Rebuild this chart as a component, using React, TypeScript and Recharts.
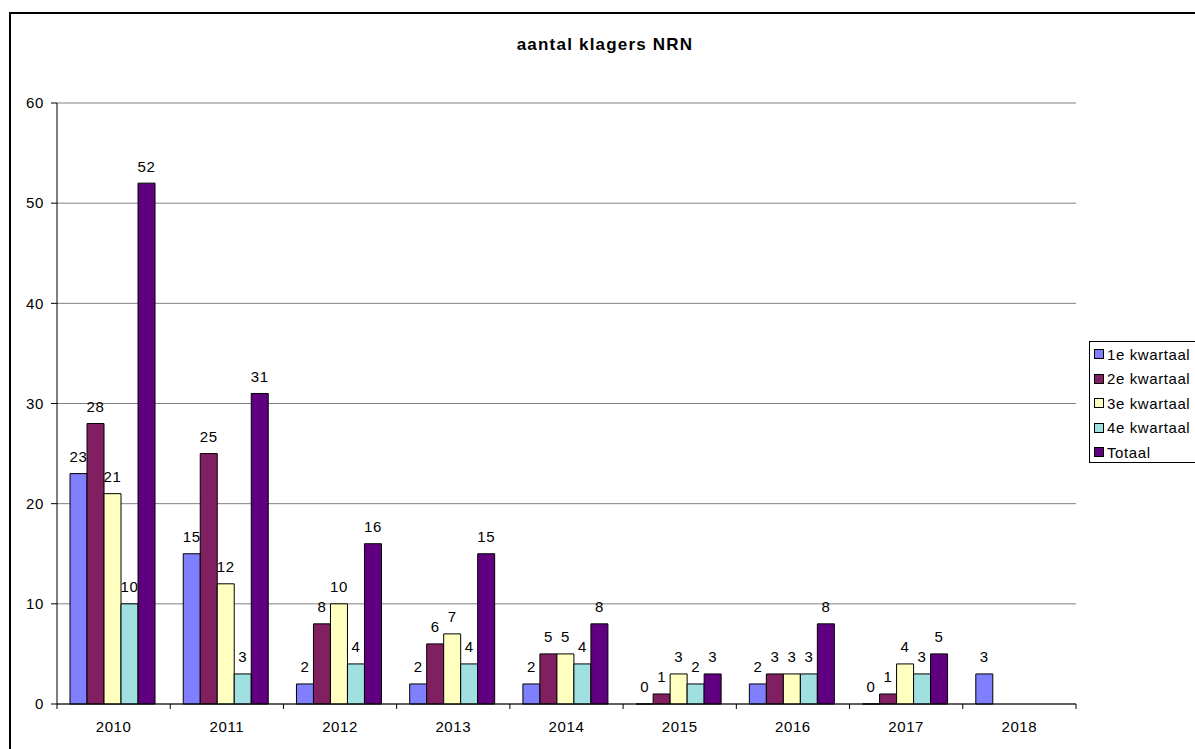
import { BarChart, Bar, XAxis, YAxis, CartesianGrid, LabelList } from "recharts"

// aantal klagers per kwartaal, per jaar
const years = ["2010", "2011", "2012", "2013", "2014", "2015", "2016", "2017", "2018"]
const kwartaal1 = [23, 15, 2, 2, 2, 0, 2, 0, 3]
const kwartaal2 = [28, 25, 8, 6, 5, 1, 3, 1, null]
const kwartaal3 = [21, 12, 10, 7, 5, 3, 3, 4, null]
const kwartaal4 = [10, 3, 4, 4, 4, 2, 3, 3, null]
const totaal = [52, 31, 16, 15, 8, 3, 8, 5, null]
const yTicks = [0, 10, 20, 30, 40, 50, 60]

const series = [
  { key: "k1", name: "1e kwartaal", color: "#8080ff" },
  { key: "k2", name: "2e kwartaal", color: "#802060" },
  { key: "k3", name: "3e kwartaal", color: "#ffffc0" },
  { key: "k4", name: "4e kwartaal", color: "#a0e0e0" },
  { key: "tot", name: "Totaal", color: "#600080" },
]

const data = years.map((year, i) => ({
  year,
  k1: kwartaal1[i],
  k2: kwartaal2[i],
  k3: kwartaal3[i],
  k4: kwartaal4[i],
  tot: totaal[i],
}))

const FONT = "'Liberation Sans', Arial, sans-serif"
const PLOT_LEFT = 57
const PLOT_RIGHT = 1076
const BAND = (PLOT_RIGHT - PLOT_LEFT) / years.length

// year label plus the small tick marks between categories
const YearTick = (props: any) => {
  const { x, y, payload, index } = props
  const left = x - BAND / 2
  const right = x + BAND / 2
  return (
    <g>
      <line x1={left} x2={left} y1={y - 8} y2={y - 3} stroke="#000" />
      {index === years.length - 1 && <line x1={right} x2={right} y1={y - 8} y2={y - 3} stroke="#000" />}
      <text x={x} y={y + 20} textAnchor="middle" fontSize={15} letterSpacing={0.6} fontFamily={FONT} fill="#000">
        {payload.value}
      </text>
    </g>
  )
}

// value above the bar, also for zero values (Excel shows those)
const ValueLabel = (props: any) => {
  const { x, y, width, value } = props
  if (value === null || value === undefined) return null
  return (
    <text x={x + width / 2} y={y - 11.5} textAnchor="middle" fontSize={15} letterSpacing={0.6} fontFamily={FONT} fill="#000">
      {value}
    </text>
  )
}

// zero values get a hair-thin bar so that their label is still drawn
const zeroSize = (value: any) => (value === 0 ? 0.01 : 0)

const LegendBox = () => (
  <div
    style={{
      position: "absolute",
      left: 1089,
      top: 341,
      width: 120,
      height: 122,
      border: "1px solid #000",
      background: "#fff",
      fontFamily: FONT,
      fontSize: 15,
      letterSpacing: 0.6,
      boxSizing: "border-box",
    }}
  >
    {series.map((s, i) => (
      <div
        key={s.key}
        style={{ position: "absolute", left: 4, top: 2 + i * 24.6, display: "flex", alignItems: "center", height: 20 }}
      >
        <span
          style={{
            display: "inline-block",
            width: 8,
            height: 8,
            background: s.color,
            border: "1px solid #000",
            marginRight: 3,
          }}
        />
        <span style={{ whiteSpace: "nowrap" }}>{s.name}</span>
      </div>
    ))}
  </div>
)

export default function App() {
  return (
    <div style={{ position: "absolute", left: 0, top: 0, width: 1195, height: 749, overflow: "hidden", background: "#fff" }}>
      <div
        style={{
          position: "absolute",
          left: 9,
          top: 12,
          width: 1200,
          height: 760,
          border: "2px solid #000",
          boxSizing: "border-box",
        }}
      />
      <div
        style={{
          position: "absolute",
          left: 0,
          top: 35,
          width: 1210,
          textAlign: "center",
          fontFamily: FONT,
          fontSize: 17,
          letterSpacing: 1.2,
          fontWeight: "bold",
        }}
      >
        aantal klagers NRN
      </div>
      <div style={{ position: "absolute", left: 0, top: 0 }}>
        <BarChart
          width={1195}
          height={749}
          data={data}
          margin={{ top: 103, right: 1195 - PLOT_RIGHT, bottom: 15, left: 7 }}
          barCategoryGap="11.5%"
          barGap={0}
        >
          <CartesianGrid vertical={false} stroke="#808080" />
          <XAxis
            dataKey="year"
            height={30}
            tickLine={false}
            axisLine={{ stroke: "#000" }}
            tick={<YearTick />}
            interval={0}
          />
          <YAxis
            domain={[0, 60]}
            ticks={yTicks}
            width={50}
            tickSize={6}
            tickMargin={7}
            axisLine={{ stroke: "#000" }}
            tickLine={{ stroke: "#000" }}
            tick={{ fontSize: 15, fontFamily: FONT, fill: "#000", letterSpacing: 0.6 }}
          />
          <YAxis yAxisId="right" orientation="right" width={0} tick={false} tickLine={false} axisLine={{ stroke: "#808080" }} />
          {series.map((s) => (
            <Bar
              key={s.key}
              dataKey={s.key}
              name={s.name}
              fill={s.color}
              stroke="#000"
              strokeWidth={1}
              minPointSize={zeroSize}
              isAnimationActive={false}
            >
              <LabelList dataKey={s.key} content={<ValueLabel />} />
            </Bar>
          ))}
        </BarChart>
      </div>
      <LegendBox />
    </div>
  )
}
